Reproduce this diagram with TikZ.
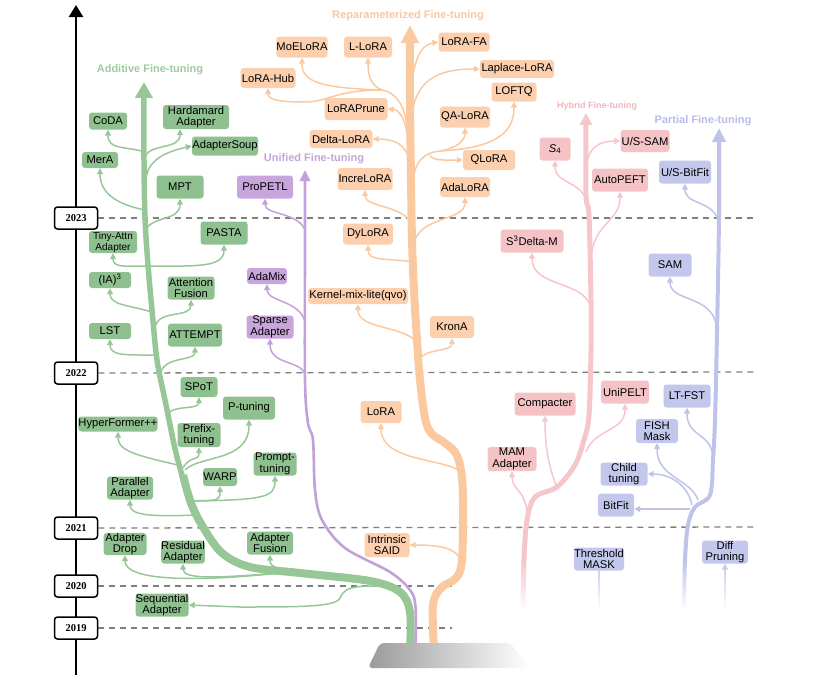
\documentclass[tikz,border=0pt]{standalone}
\usepackage{fontspec}
\setmainfont{Liberation Sans}
\newfontfamily\yearfont{Liberation Serif}
\usetikzlibrary{arrows.meta,calc,fadings}
\pgfdeclarelayer{background}
\pgfsetlayers{background,main}
\definecolor{gfill}{HTML}{8FC08F}
\definecolor{gline}{HTML}{97C797}
\definecolor{gtitle}{HTML}{9DCB9D}
\definecolor{ofill}{HTML}{FCCFAE}
\definecolor{oline}{HTML}{FBC9A0}
\definecolor{otitle}{HTML}{F7C6A4}
\definecolor{pfill}{HTML}{F5C3C6}
\definecolor{pline}{HTML}{F5C6CA}
\definecolor{ptitle}{HTML}{F0B5BB}
\definecolor{lfill}{HTML}{C3C7EC}
\definecolor{lline}{HTML}{BFC3EA}
\definecolor{ltitle}{HTML}{B8BCE6}
\definecolor{ufill}{HTML}{C8A5DA}
\definecolor{uline}{HTML}{C2A1D8}
\definecolor{utitle}{HTML}{C3A6D9}
\definecolor{dashgray}{HTML}{7F7F7F}
\definecolor{basegray}{HTML}{9A9A9A}
\newcommand{\bxfont}{\fontsize{11.2}{11.6}\selectfont}
\begin{document}
\begin{tikzpicture}[x=1pt,y=-1pt,
  box/.style={rounded corners=3pt, inner sep=0pt, align=center, font=\bxfont, text=black},
  gbox/.style={box, fill=gfill},
  obox/.style={box, fill=ofill},
  pbox/.style={box, fill=pfill},
  lbox/.style={box, fill=lfill},
  ubox/.style={box, fill=ufill},
  sz/.style 2 args={minimum width=#1, minimum height=#2},
  brtip/.style={-{Triangle[length=6pt,width=6pt]}},
  gbr/.style={draw=gline, line width=1.5pt, brtip},
  obr/.style={draw=oline, line width=1.5pt, brtip},
  pbr/.style={draw=pline, line width=1.5pt, brtip},
  lbr/.style={draw=lline, line width=1.5pt, brtip},
  ubr/.style={draw=uline, line width=1.5pt, brtip},
  ttl/.style={font=\bfseries\fontsize{11}{13}\selectfont},
  yearbox/.style={draw=black, line width=1.5pt, rounded corners=3pt, fill=white, minimum width=43, minimum height=22, inner sep=0pt, font=\yearfont\bfseries\fontsize{10.5}{12}\selectfont},
  dashln/.style={draw=dashgray, line width=1.3pt, dash pattern=on 6pt off 5pt},
]
\useasboundingbox (0,0) rectangle (828,675);

% ---------- year boxes ----------
\node[yearbox] (y2023) at (76,218) {2023};
\node[yearbox] (y2022) at (76,373) {2022};
\node[yearbox] (y2021) at (76,528) {2021};
\node[yearbox] (y2020) at (76,586) {2020};
\node[yearbox] (y2019) at (76,628) {2019};
\coordinate (axb) at (76,675);
\coordinate (axt) at (76,5);
\coordinate (e2023) at (757,218);
\coordinate (e2022) at (757,372);
\coordinate (e2021) at (757,527);
\coordinate (e2020) at (452,586);
\coordinate (e2019) at (452,628);

% ---------- titles ----------
\node[ttl, text=gtitle] (addt) at (150,70) {Additive Fine-tuning};
\node[ttl, text=otitle] (rept) at (408,16) {Reparameterized Fine-tuning};
\node[text=ptitle, font=\bfseries\fontsize{9}{11}\selectfont] (hybt) at (597,106) {Hybrid Fine-tuning};
\node[ttl, text=ltitle] (part) at (703,121) {Partial Fine-tuning};
\node[ttl, text=utitle] (unit) at (314,159) {Unified Fine-tuning};

% ---------- green boxes ----------
\node[gbox, sz={38}{17}] (coda) at (108,121) {CoDA};
\node[gbox, sz={66}{24}] (hard) at (196,117) {Hardamard\\Adapter};
\node[gbox, sz={66}{19}] (soup) at (225,146) {AdapterSoup};
\node[gbox, sz={36}{16}] (mera) at (100,160) {MerA};
\node[gbox, sz={47}{23}] (mpt) at (180,187) {MPT};
\node[gbox, sz={47}{23}] (pasta) at (224,233) {PASTA};
\node[gbox, sz={48}{22}, font=\fontsize{10}{11}\selectfont] (tiny) at (113,242) {Tiny-Attn\\Adapter};
\node[gbox, sz={42}{16}] (ia) at (110,280) {(IA)\textsuperscript{3}};
\node[gbox, sz={47}{23}] (attf) at (191,288) {Attention\\Fusion};
\node[gbox, sz={42}{16}] (lst) at (110,331) {LST};
\node[gbox, sz={54}{23}] (attempt) at (195,335) {ATTEMPT};
\node[gbox, sz={37}{20}] (spot) at (199,387) {SPoT};
\node[gbox, sz={52}{23}] (ptune) at (249,408) {P-tuning};
\node[gbox, sz={77}{15}] (hyper) at (118,424) {HyperFormer++};
\node[gbox, sz={43}{24}] (prefix) at (199,435) {Prefix-\\tuning};
\node[gbox, sz={43}{23}] (prompt) at (275,464) {Prompt-\\tuning};
\node[gbox, sz={34}{18}] (warp) at (220,477) {WARP};
\node[gbox, sz={46}{23}] (parallel) at (130,488) {Parallel\\Adapter};
\node[gbox, sz={43}{22}] (drop) at (125,544) {Adapter\\Drop};
\node[gbox, sz={43}{23}] (resid) at (183,552) {Residual\\Adapter};
\node[gbox, sz={46}{23}] (afus) at (270,543) {Adapter\\Fusion};
\node[gbox, sz={53}{23}] (seq) at (162,605) {Sequential\\Adapter};

% ---------- orange boxes ----------
\node[obox, sz={51}{21}] (moe) at (302,47) {MoELoRA};
\node[obox, sz={48}{21}] (llora) at (368,47) {L-LoRA};
\node[obox, sz={51}{19}] (fa) at (464,42) {LoRA-FA};
\node[obox, sz={55}{20}] (hub) at (268,78) {LoRA-Hub};
\node[obox, sz={74}{18}] (lap) at (517,69) {Laplace-LoRA};
\node[obox, sz={45}{19}] (loftq) at (514,92) {LOFTQ};
\node[obox, sz={63}{22}] (prune) at (356,109) {LoRAPrune};
\node[obox, sz={50}{21}] (qa) at (465,117) {QA-LoRA};
\node[obox, sz={63}{18}] (delta) at (341,139) {Delta-LoRA};
\node[obox, sz={52}{20}] (qlora) at (489,160) {QLoRA};
\node[obox, sz={55}{22}] (incre) at (365,179) {IncreLoRA};
\node[obox, sz={50}{20}] (ada) at (465,187) {AdaLoRA};
\node[obox, sz={50}{21}] (dylora) at (368,234) {DyLoRA};
\node[obox, sz={100}{16}] (kernel) at (358,296) {Kernel-mix-lite(qvo)};
\node[obox, sz={44}{22}] (krona) at (452,327) {KronA};
\node[obox, sz={41}{22}] (lora) at (381,412) {LoRA};
\node[obox, sz={45}{24}] (said) at (387,545) {Intrinsic\\SAID};

% ---------- pink boxes ----------
\node[pbox, sz={31}{23}] (s4) at (555,149) {{\itshape S}\textsubscript{4}};
\node[pbox, sz={49}{22}] (ussam) at (645,141) {U/S-SAM};
\node[pbox, sz={56}{23}] (autopeft) at (620,180) {AutoPEFT};
\node[pbox, sz={63}{23}] (s3) at (532,241) {S\textsuperscript{3}Delta-M};
\node[pbox, sz={61}{23}] (compacter) at (545,404) {Compacter};
\node[pbox, sz={48}{23}] (unipelt) at (625,392) {UniPELT};
\node[pbox, sz={49}{24}] (mam) at (512,459) {MAM\\Adapter};

% ---------- lavender boxes ----------
\node[lbox, sz={52}{23}] (usbit) at (685,172) {U/S-BitFit};
\node[lbox, sz={43}{23}] (sam) at (670,265) {SAM};
\node[lbox, sz={47}{23}] (ltfst) at (687,396) {LT-FST};
\node[lbox, sz={42}{24}] (fish) at (657,431) {FISH\\Mask};
\node[lbox, sz={47}{23}] (child) at (624,474) {Child\\tuning};
\node[lbox, sz={36}{23}] (bitfit) at (616,505) {BitFit};
\node[lbox, sz={50}{23}] (thresh) at (599,559) {Threshold\\MASK};
\node[lbox, sz={46}{23}] (diff) at (725,552) {Diff\\Pruning};

% ---------- purple boxes ----------
\node[ubox, sz={56}{23}] (propetl) at (265,187) {ProPETL};
\node[ubox, sz={40}{16}] (adamix) at (267,276) {AdaMix};
\node[ubox, sz={47}{23}] (sparse) at (270,327) {Sparse\\Adapter};

\begin{pgfonlayer}{background}
% axis and dashed lines
\draw[line width=2.4pt, -{Triangle[width=14pt,length=12pt]}] (axb) -- (axt);
\draw[dashln] (y2023.east) -- (e2023);
\draw[dashln] (y2022.east) -- (e2022);
\draw[dashln] (y2021.east) -- (e2021);
\draw[dashln] (y2020.east) -- (e2020);
\draw[dashln] (y2019.east) -- (e2019);

% ---------- trunks ----------
% green
\draw[gline, line width=5.5pt, line cap=round, -{Triangle[width=17pt,length=16pt]}]
  plot[smooth, tension=0.55] coordinates {(410,650) (410,612) (400,592) (370,581) (300,573) (250,567) (222,553) (203,527) (191,503) (177,457) (165,400) (157,360) (152,310) (148,265) (145,218) (144,160) (144,82)};
\draw[gline, line width=8pt]
  plot[smooth, tension=0.55] coordinates {(410,650) (410,612) (400,592) (370,581) (300,573) (250,567) (222,553) (203,527) (191,503) (183,475)};
% purple
\draw[uline, line width=2.6pt, -{Triangle[width=10pt,length=11pt]}]
  plot[smooth, tension=0.55] coordinates {(415.5,650) (415.5,607) (410,590) (390,572) (345,548) (322,520) (315,490) (313,440) (308,423) (305,380) (305,250) (305,170)};
% orange
\draw[oline, line width=8pt, -{Triangle[width=17pt,length=18pt]}]
  plot[smooth, tension=0.55] coordinates {(434,650) (433,605) (441,588) (456,578) (462,560) (463,500) (461,470) (455,452) (442,441) (431,433) (425,418) (420,380) (417,340) (414,290) (412,240) (411,180) (410,100) (410,25)};
% pink
\draw[pline, line width=5pt, -{Triangle[width=12pt,length=12pt]}]
  plot[smooth, tension=0.55] coordinates {(523,610) (524,560) (527,520) (535,497) (557,487) (575,465) (584,440) (589,415) (591,350) (591,300) (589,215) (586,195) (586,113)};
% lavender
\draw[lline, line width=4pt, -{Triangle[width=13pt,length=14pt]}]
  plot[smooth, tension=0.55] coordinates {(684,610) (685,560) (688,525) (695,507) (710,495) (713,460) (715,420) (717,333) (719,217) (719,128)};

% ---------- green branches ----------
\draw[gbr] (145,152) .. controls (125,146) and (108,150) .. (coda.south);
\draw[gbr] (145,157) .. controls (150,143) and (180,150) .. ($(hard.south)+(-16,0)$);
\draw[gbr] (146,180) .. controls (147,158) and (170,151) .. (soup.west);
\draw[gbr] (145,210) .. controls (120,205) and (100,195) .. (mera.south);
\draw[gbr] (145,232) .. controls (150,215) and (180,222) .. (mpt.south);
\draw[gbr] (148,266) .. controls (125,266) and (113,268) .. (tiny.south);
\draw[gbr] (148,266) .. controls (195,266) and (224,268) .. (pasta.south);
\draw[gbr] (152,312) .. controls (128,305) and (110,305) .. (ia.south);
\draw[gbr] (156,325) .. controls (160,310) and (191,318) .. (attf.south);
\draw[gbr] (157,355) .. controls (125,355) and (110,356) .. (lst.south);
\draw[gbr] (160,375) .. controls (163,355) and (195,362) .. (attempt.south);
\draw[gbr] (168,414) .. controls (172,405) and (199,410) .. (spot.south);
\draw[gbr] (182,466) .. controls (140,456) and (118,452) .. (hyper.south);
\draw[gbr] (183,468) .. controls (190,455) and (199,462) .. (prefix.south);
\draw[gbr] (185,470) .. controls (200,455) and (249,462) .. (ptune.south);
\coordinate (wj) at (192,501);
\draw[gbr] (wj) .. controls (215,500) and (220,502) .. (warp.south);
\draw[gbr] (wj) .. controls (265,500) and (275,497) .. (prompt.south);
\draw[gbr] (196,515) .. controls (150,517) and (130,515) .. (parallel.south);
\draw[gbr] (290,572) .. controls (200,582) and (125,582) .. (drop.south);
\draw[gbr] (290,572) .. controls (220,578) and (183,580) .. (resid.south);
\draw[gbr] (295,571) .. controls (280,569) and (270,568) .. (afus.south);
\draw[gbr] (398,587) .. controls (360,585) and (345,585) .. (340,598) .. controls (336,607) and (300,607) .. (240,607) -- (seq.east);

% ---------- orange branches ----------
\coordinate (oh) at (382,90);
\draw[obr, -] (407,130) .. controls (406,105) and (395,92) .. (oh);
\draw[obr] (oh) .. controls (320,88) and (302,82) .. (moe.south);
\draw[obr] (oh) .. controls (372,86) and (368,78) .. (llora.south);
\draw[obr] (oh) .. controls (335,90) and (328,102) .. (305,102) .. controls (280,102) and (268,100) .. (hub.south);
\draw[obr] (411,100) .. controls (412,62) and (420,45) .. (fa.west);
\draw[obr] (411,128) .. controls (412,85) and (430,69) .. (lap.west);
\draw[obr] (408,142) .. controls (406,120) and (400,110) .. (prune.east);
\draw[obr] (409,160) .. controls (406,145) and (395,139) .. (delta.east);
\coordinate (oq) at (440,151);
\draw[obr, -] (412,188) .. controls (414,162) and (422,153) .. (oq);
\draw[obr] (oq) .. controls (500,148) and (514,130) .. (loftq.south);
\draw[obr] (oq) .. controls (458,148) and (465,140) .. (qa.south);
\draw[obr] (430,155) .. controls (432,161) and (445,160) .. (qlora.west);
\draw[obr] (411,222) .. controls (400,205) and (365,207) .. (incre.south);
\draw[obr] (413,246) .. controls (418,215) and (465,222) .. (ada.south);
\draw[obr] (413,262) .. controls (390,258) and (368,262) .. (dylora.south);
\draw[obr] (417,343) .. controls (405,325) and (358,330) .. (kernel.south);
\draw[obr] (419,360) .. controls (425,348) and (452,352) .. (krona.south);
\draw[obr] (461,472) .. controls (445,458) and (381,462) .. (lora.south);
\draw[obr] (462,563) .. controls (458,548) and (440,545) .. (said.east);

% ---------- pink branches ----------
\draw[pbr] (587,205) .. controls (584,180) and (555,185) .. (s4.south);
\draw[pbr] (586,172) .. controls (586,147) and (600,141) .. (ussam.west);
\draw[pbr] (591,258) .. controls (594,222) and (620,222) .. (autopeft.south);
\draw[pbr] (591,308) .. controls (585,280) and (532,288) .. (s3.south);
\draw[pbr] (586,452) .. controls (595,428) and (625,432) .. (unipelt.south);
\draw[pbr] (557,488) .. controls (550,470) and (545,450) .. (compacter.south);
\draw[pbr] (527,512) .. controls (525,490) and (512,490) .. (mam.south);

% ---------- lavender branches ----------
\draw[lbr] (718,220) .. controls (712,200) and (685,205) .. (usbit.south);
\draw[lbr] (716,325) .. controls (712,295) and (670,302) .. (sam.south);
\draw[lbr] (713,458) .. controls (712,432) and (687,438) .. (ltfst.south);
\draw[lbr] (698,500) .. controls (690,478) and (657,478) .. (fish.south);
\draw[lbr] (692,505) .. controls (688,485) and (670,474) .. (child.east);
\draw[lbr] (690,509) -- ($(bitfit.east)+(0,4)$);
\coordinate (dfb) at (725,610);
\draw[lbr] (dfb) -- (diff.south);
\coordinate (thb) at (599,610);
\draw[lbr, -] (thresh.south) -- (thb);

% ---------- purple branches ----------
\draw[ubr] (305,230) .. controls (298,212) and (265,215) .. (propetl.south);
\draw[ubr] (305,322) .. controls (300,300) and (267,302) .. (adamix.south);
\draw[ubr] (305,374) .. controls (300,360) and (270,365) .. (sparse.south);

% ---------- bottom fades and base ----------
\fill[white, path fading=north] (478,560) rectangle (765,610);
\fill[white] (478,608) rectangle (765,675);
\shade[left color=basegray, middle color=basegray, right color=white, rounded corners=4pt]
  (368,668) -- (380,643) -- (510,643) -- (530,668) -- cycle;
\end{pgfonlayer}
\end{tikzpicture}
\end{document}
